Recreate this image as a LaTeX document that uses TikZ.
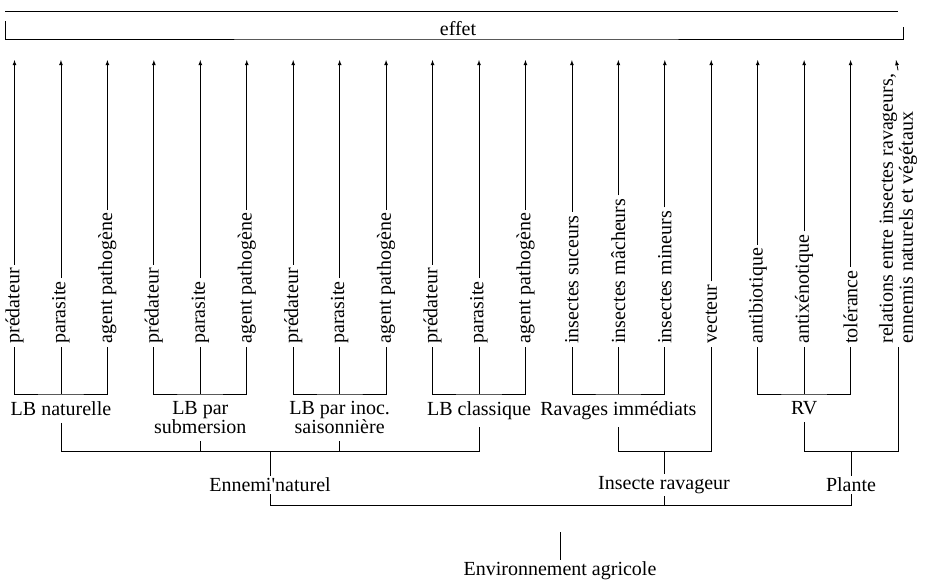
\documentclass[tikz,border=0pt]{standalone}
\usepackage{fontspec}
\setmainfont{Liberation Serif}

\begin{document}
\begin{tikzpicture}[x=1pt,y=-1pt,line width=.8pt,
colonne/.style={rotate=90,anchor=west,inner sep=3pt,font=\fontsize{20}{20}\selectfont},
groupe/.style={anchor=north,align=center,inner xsep=2pt,inner ysep=7pt,font=\fontsize{20}{19}\selectfont},
categorie/.style={inner sep=2pt,font=\fontsize{20}{20}\selectfont}]

\useasboundingbox (0,0) rectangle (931,579);

% niveaux des accolades
\coordinate (lvA) at (0,394);
\coordinate (lvB) at (0,451);
\coordinate (lvC) at (0,505);

% effet
\coordinate (r1) at (5,11);
\coordinate (r2) at (898,11);
\draw (r1) -- (r2);
\node[categorie,anchor=south,inner sep=3pt] (effet) at (458,39) {effet};
\coordinate (eL) at (5,21);
\coordinate (eR) at (903,27);
\draw (eL) |- (effet.south) -| (eR);

% colonnes
\foreach \lab [count=\i] in {prédateur,parasite,agent pathogène,prédateur,parasite,agent pathogène,prédateur,parasite,agent pathogène,prédateur,parasite,agent pathogène,insectes suceurs,insectes mâcheurs,insectes mineurs,vecteur,antibiotique,antixénotique,tolérance}{
  \pgfmathsetmacro{\xx}{14.5+46.45*(\i-1)}
  \node[colonne] (c\i) at (\xx,347) {\lab};
  \coordinate (t\i) at (\xx,60);
  \draw[-latex] (c\i.east) -- (t\i);
}
\node[colonne,align=left] (c20) at (898,347) {relations entre insectes ravageurs,\\ennemis naturels et végétaux};
\coordinate (t20) at (896,60);
\draw[-latex] (c20.east) -- (t20);

% groupes
\node[groupe] (lbn) at (c2.west |- lvA) {LB naturelle};
\node[groupe] (lbs) at (c5.west |- lvA) {LB par\\submersion};
\node[groupe] (lbi) at (c8.west |- lvA) {LB par inoc.\\saisonnière};
\node[groupe] (lbc) at (c11.west |- lvA) {LB classique};
\node[groupe] (ravi) at (c14.west |- lvA) {Ravages immédiats};
\node[groupe] (rv) at (c18.west |- lvA) {RV};

\foreach \a/\b/\c/\g in {1/2/3/lbn,4/5/6/lbs,7/8/9/lbi,10/11/12/lbc,13/14/15/ravi,17/18/19/rv}{
  \draw (c\a.west) |- (\g.north) -| (c\c.west);
  \draw (c\b.west) -- (\g.north);
}

% categories
\node[categorie] (en) at (270,485) {Ennemi\textquotesingle naturel};
\node[categorie] (ir) at (664,485) {Insecte ravageur};
\node[categorie] (pl) at (851,485) {Plante};

\draw (lbn.south) -- (lbn.south |- lvB) -- (lbc.south |- lvB) -- (lbc.south);
\draw (lbs.south) -- (lbs.south |- lvB);
\draw (lbi.south) -- (lbi.south |- lvB);
\draw (en.north) -- (en.north |- lvB);
\draw (ravi.south) -- (ravi.south |- lvB) -| (c16.west);
\draw (ir.north) -- (ir.north |- lvB);
\draw (rv.south) -- (rv.south |- lvB) -| (c20.west);
\draw (pl.north) -- (pl.north |- lvB);

% environnement
\node[categorie] (env) at (560,571) {Environnement agricole};
\draw (en.south) -- (en.south |- lvC) -| (pl.south);
\draw (ir.south) -- (ir.south |- lvC);
\coordinate (envtop) at (560,532);
\draw (envtop) -- (env.north);

\end{tikzpicture}
\end{document}
